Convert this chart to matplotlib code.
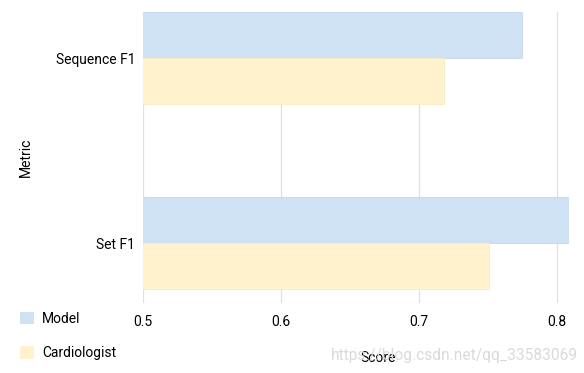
import matplotlib.pyplot as plt
from matplotlib.patches import Patch

# data
metrics = ['Sequence F1', 'Set F1']
model_scores = [0.775, 0.809]
cardio_scores = [0.718, 0.751]
series_names = ['Model', 'Cardiologist']
xticks = [0.5, 0.6, 0.7, 0.8]

plt.rcParams['font.family'] = ['Roboto', 'DejaVu Sans']
plt.rcParams['font.size'] = 10

blue = '#cfe2f3'
yellow = '#fff2cc'

fig = plt.figure(figsize=(5.84, 3.73), dpi=100)
ax = fig.add_axes([143/584, 1 - 303/373, 426/584, 291/373])

pos = list(range(len(metrics)))
h = 0.25
ax.barh([p - h/2 for p in pos], model_scores, height=h, color=blue,
        edgecolor='#c4d9ee', linewidth=0.6, zorder=2)
ax.barh([p + h/2 for p in pos], cardio_scores, height=h, color=yellow,
        edgecolor='#f8ebc4', linewidth=0.6, zorder=2)

ax.set_xlim(0.5, 0.809)
ax.set_ylim(1.324, -0.25)
ax.set_xticks(xticks)
ax.set_xticklabels([str(t) for t in xticks])
ax.set_yticks(pos)
ax.set_yticklabels(metrics)
ax.tick_params(length=0, pad=5.5)
ax.tick_params(axis='x', pad=9)
ax.grid(axis='x', color='#e0e0e0', linewidth=0.9, zorder=0)
for s in ax.spines.values():
    s.set_visible(False)

ax.set_xlabel('Score')
ax.xaxis.set_label_coords(0.552, -0.165)
ax.set_ylabel('Metric')
ax.yaxis.set_label_coords(-0.258, 0.5)

# legend bottom left
handles = [Patch(facecolor=blue, edgecolor='none'),
           Patch(facecolor=yellow, edgecolor='none')]
fig.legend(handles, series_names, loc='upper left',
           bbox_to_anchor=(0.013, 0.197), frameon=False,
           handlelength=1.0, handleheight=1.0, handletextpad=0.6,
           labelspacing=1.45)

# watermark
fig.text(0.566, 0.048, 'https://blog.csdn.net/qq_33583069', color='#dadada',
         fontsize=11.2, ha='left', va='center', zorder=0)

fig.savefig('out.png', dpi=100)
